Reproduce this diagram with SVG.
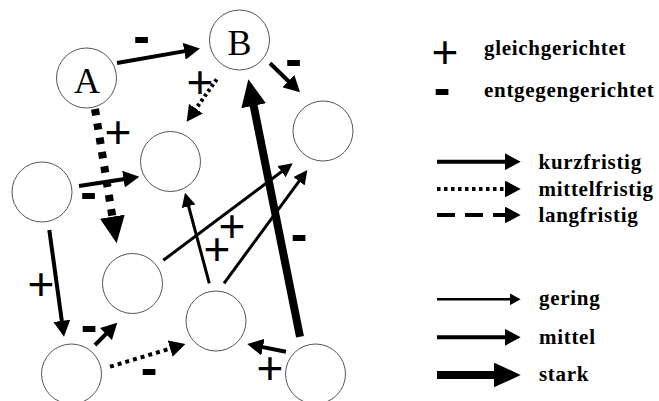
<svg xmlns="http://www.w3.org/2000/svg" width="659" height="401" viewBox="0 0 659 401">
<style>
.node{fill:#fff;stroke:#555;stroke-width:1}
.nl{font-family:"Liberation Serif",serif;font-size:36px;text-anchor:middle;fill:#000}
.plus{font-family:"Liberation Sans",sans-serif;font-size:46px;text-anchor:middle;fill:#000}
.minus{font-family:"Liberation Sans",sans-serif;font-weight:bold;font-size:50px;text-anchor:middle;fill:#000}
.lg{font-family:"Liberation Serif",serif;font-weight:bold;font-size:21px;letter-spacing:0.7px;fill:#000}
.e{fill:none;stroke:#000;stroke-linecap:butt}
.g{stroke-width:2.5;marker-end:url(#hg)}
.g3{stroke-width:3;marker-end:url(#hg3)}
.m{stroke-width:4;marker-end:url(#hm)}
.s{stroke-width:8;marker-end:url(#hs)}
</style>
<defs>
<marker id="hg" markerUnits="userSpaceOnUse" markerWidth="11" markerHeight="12" refX="5.5" refY="6" orient="auto"><path d="M0,0 L11,6 L0,12 z" fill="#000"/></marker>
<marker id="hg3" markerUnits="userSpaceOnUse" markerWidth="14" markerHeight="14" refX="7" refY="7" orient="auto"><path d="M0,0 L14,7 L0,14 z" fill="#000"/></marker>
<marker id="hm" markerUnits="userSpaceOnUse" markerWidth="16" markerHeight="17" refX="8" refY="8.5" orient="auto"><path d="M0,0 L16,8.5 L0,17 z" fill="#000"/></marker>
<marker id="hs" markerUnits="userSpaceOnUse" markerWidth="27" markerHeight="25" refX="13.5" refY="12.5" orient="auto"><path d="M0,0 L27,12.5 L0,25 z" fill="#000"/></marker>
</defs>
<rect width="659" height="401" fill="#fff"/>

<g id="connectors">
<path class="e m" d="M117,63 L192.1,49.9"/>
<path class="e m" d="M270,63.3 L294.2,86.7"/>
<path class="e m" d="M216.7,79.3 L191.3,115.2" stroke-width="3" stroke-dasharray="3 3"/>
<path class="e s" d="M95,109 L114.5,230" stroke-width="6" stroke-dasharray="6.5 8"/>
<path class="e m" d="M79,186 L131.4,177.9"/>
<path class="e m" d="M49.3,230 L62.9,328.8"/>
<path class="e m" d="M95,345 L111.6,328.4"/>
<path class="e m" d="M110,366.7 L177.8,346.3" stroke-dasharray="4 4"/>
<path class="e g3" d="M163.3,260.3 L287.1,167.5"/>
<path class="e g3" d="M224,283.3 L303.2,175.6"/>
<path class="e g3" d="M209.3,283.3 L186.8,199.5"/>
<path class="e s" d="M300,336.7 L251,92.5"/>
<path class="e m" d="M286,351.7 L255.1,345.6"/>
</g>

<g id="edge-labels">
<text class="minus" x="141.5" y="52.5">-</text>
<text class="minus" x="293.5" y="76">-</text>
<text class="plus" x="200" y="98">+</text>
<text class="plus" x="118" y="148">+</text>
<text class="minus" x="88.5" y="209">-</text>
<text class="plus" x="41" y="300">+</text>
<text class="minus" x="89" y="342">-</text>
<text class="minus" x="149" y="384.5">-</text>
<text class="plus" x="232" y="241.5">+</text>
<text class="plus" x="217" y="264.5">+</text>
<text class="minus" x="299" y="250.5">-</text>
<text class="plus" x="270" y="383.5">+</text>
</g>

<g id="node-A"><circle class="node" cx="86.5" cy="78" r="30"/><text class="nl" x="87" y="92.7">A</text></g>
<g id="node-B"><circle class="node" cx="239.5" cy="40" r="30"/><text class="nl" x="239.5" y="55">B</text></g>
<g id="node-tr"><circle class="node" cx="323" cy="131" r="30"/></g>
<g id="node-mt"><circle class="node" cx="170.5" cy="161.5" r="30"/></g>
<g id="node-l"><circle class="node" cx="42" cy="192" r="30"/></g>
<g id="node-m"><circle class="node" cx="132.5" cy="283.5" r="30"/></g>
<g id="node-cb"><circle class="node" cx="216" cy="321" r="30"/></g>
<g id="node-bl"><circle class="node" cx="71.5" cy="374" r="30"/></g>
<g id="node-br"><circle class="node" cx="315.5" cy="374" r="30"/></g>

<g id="legend">
<text class="plus" x="445" y="68">+</text>
<text class="lg" x="484" y="55">gleichgerichtet</text>
<text class="minus" x="442" y="105">-</text>
<text class="lg" x="484" y="97">entgegengerichtet</text>
<path class="e m" d="M437,161.7 L512.7,161.7"/>
<text class="lg" x="538.5" y="168.5">kurzfristig</text>
<path class="e m" d="M437,189 L512.7,189" stroke-width="3.5" stroke-dasharray="3.5 3.5"/>
<text class="lg" x="538.5" y="195.5">mittelfristig</text>
<path class="e m" d="M437,215 L512.7,215" stroke-dasharray="18 10"/>
<text class="lg" x="538.5" y="221.5">langfristig</text>
<path class="e g" d="M437,299.3 L515.2,299.3"/>
<text class="lg" x="539" y="305">gering</text>
<path class="e m" d="M437,337.3 L512.7,337.3"/>
<text class="lg" x="539" y="343.5">mittel</text>
<path class="e s" d="M437,375 L507.2,375"/>
<text class="lg" x="539" y="381">stark</text>
</g>
</svg>
